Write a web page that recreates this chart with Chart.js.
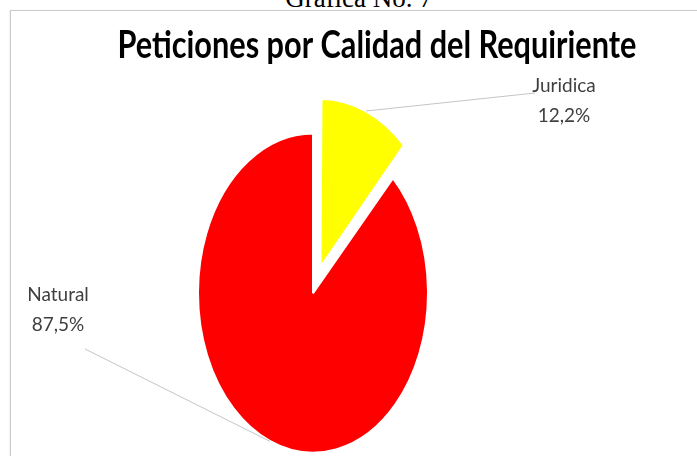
<!DOCTYPE html>
<html>
<head>
<meta charset="utf-8">
<script src="https://cdn.jsdelivr.net/npm/chart.js@4.4.1/dist/chart.umd.min.js"></script>
<style>
  html, body { margin: 0; padding: 0; background: #fff; overflow: hidden; }
  #pagina { position: relative; width: 697px; height: 456px; }
  #caption {
    position: absolute; left: 0; width: 718px; top: -17px;
    text-align: center; font: 27px "Liberation Serif", "Times New Roman", serif; color: #000;
  }
  #marco {
    position: absolute; left: 10px; top: 10px; width: 720px; height: 470px;
    border: 1px solid #cacaca; box-shadow: 0 1px 2px rgba(0,0,0,0.14);
  }
  #grafica { position: absolute; left: 0; top: 0; }
</style>
</head>
<body>
<div id="pagina">
  <div id="caption">Gráfica No. 7</div>
  <div id="marco"></div>
  <canvas id="grafica" width="697" height="456"></canvas>
</div>
<script>
var titulo = "Peticiones por Calidad del Requiriente";
var categorias = ["Juridica", "Natural"];
var porcentajes = [12.2, 87.5];
var colores = ["#FFFF00", "#FF0000"];
var desplazamiento = [80, 0];

// posiciones de los rótulos (centro del texto) y punto donde llega la línea guía
var rotulos = [
  { x: 564, y: 86, lineaX: 535, lineaY: 93 },
  { x: 58, y: 295, lineaX: 85, lineaY: 349 }
];

function porcentajeTexto(v) {
  return v.toFixed(1).replace(".", ",") + "%";
}

// aplasta el círculo para dibujar el pastel como una elipse vertical
var elipse = {
  id: "elipse",
  beforeDatasetsDraw: function (chart, args, opts) {
    var arco = chart.getDatasetMeta(0).data[0];
    var ctx = chart.ctx;
    ctx.save();
    ctx.translate(arco.x, arco.y);
    ctx.scale(1, opts.escalaY);
    ctx.translate(-arco.x, -arco.y);
  },
  afterDatasetsDraw: function (chart) {
    chart.ctx.restore();
  }
};

// título ajustado al ancho, líneas guía y rótulos de cada porción
var textos = {
  id: "textos",
  afterDraw: function (chart, args, opts) {
    var ctx = chart.ctx;
    var k = chart.options.plugins.elipse.escalaY;

    ctx.save();
    ctx.font = "bold 38px Lato, 'DejaVu Sans Condensed', sans-serif";
    ctx.fillStyle = "#000";
    ctx.textAlign = "center";
    ctx.textBaseline = "alphabetic";
    var ancho = ctx.measureText(titulo).width;
    ctx.translate(opts.tituloX, opts.tituloY);
    ctx.scale(opts.tituloAncho / ancho, 1);
    ctx.fillText(titulo, 0, 0);
    ctx.restore();

    var meta = chart.getDatasetMeta(0);
    meta.data.forEach(function (arco, i) {
      var medio = (arco.startAngle + arco.endAngle) / 2;
      var d = (arco.options.offset || 0) / 4;
      var fix = 1 - Math.sin(Math.min(Math.PI, arco.circumference));
      var r = arco.outerRadius + d * fix;
      var px = arco.x + Math.cos(medio) * (d + r);
      var py = arco.y + Math.sin(medio) * (d + r) * k;
      var rot = rotulos[i];

      ctx.save();
      ctx.strokeStyle = "#c4c4c4";
      ctx.lineWidth = 1;
      ctx.beginPath();
      ctx.moveTo(px, py);
      ctx.lineTo(rot.lineaX, rot.lineaY);
      ctx.stroke();

      ctx.fillStyle = "#3f3f3f";
      ctx.font = "19px Lato, 'DejaVu Sans Condensed', sans-serif";
      ctx.textAlign = "center";
      ctx.textBaseline = "middle";
      ctx.fillText(categorias[i], rot.x, rot.y);
      ctx.fillText(porcentajeTexto(porcentajes[i]), rot.x, rot.y + 30);
      ctx.restore();
    });
  }
};

var ctx = document.getElementById("grafica").getContext("2d");
var myChart = new Chart(ctx, {
  type: "pie",
  data: {
    labels: categorias,
    datasets: [
      {
        data: porcentajes,
        backgroundColor: colores,
        borderColor: "#ffffff",
        borderWidth: 2,
        offset: desplazamiento,
        radius: 115
      }
    ]
  },
  options: {
    responsive: false,
    animation: false,
    layout: { padding: { left: 198, right: 269, top: 178, bottom: 48 } },
    plugins: {
      legend: { display: false },
      tooltip: { enabled: false },
      elipse: { escalaY: 160 / 115 },
      textos: { tituloX: 377, tituloY: 58, tituloAncho: 519 }
    }
  },
  plugins: [elipse, textos]
});
</script>
</body>
</html>
